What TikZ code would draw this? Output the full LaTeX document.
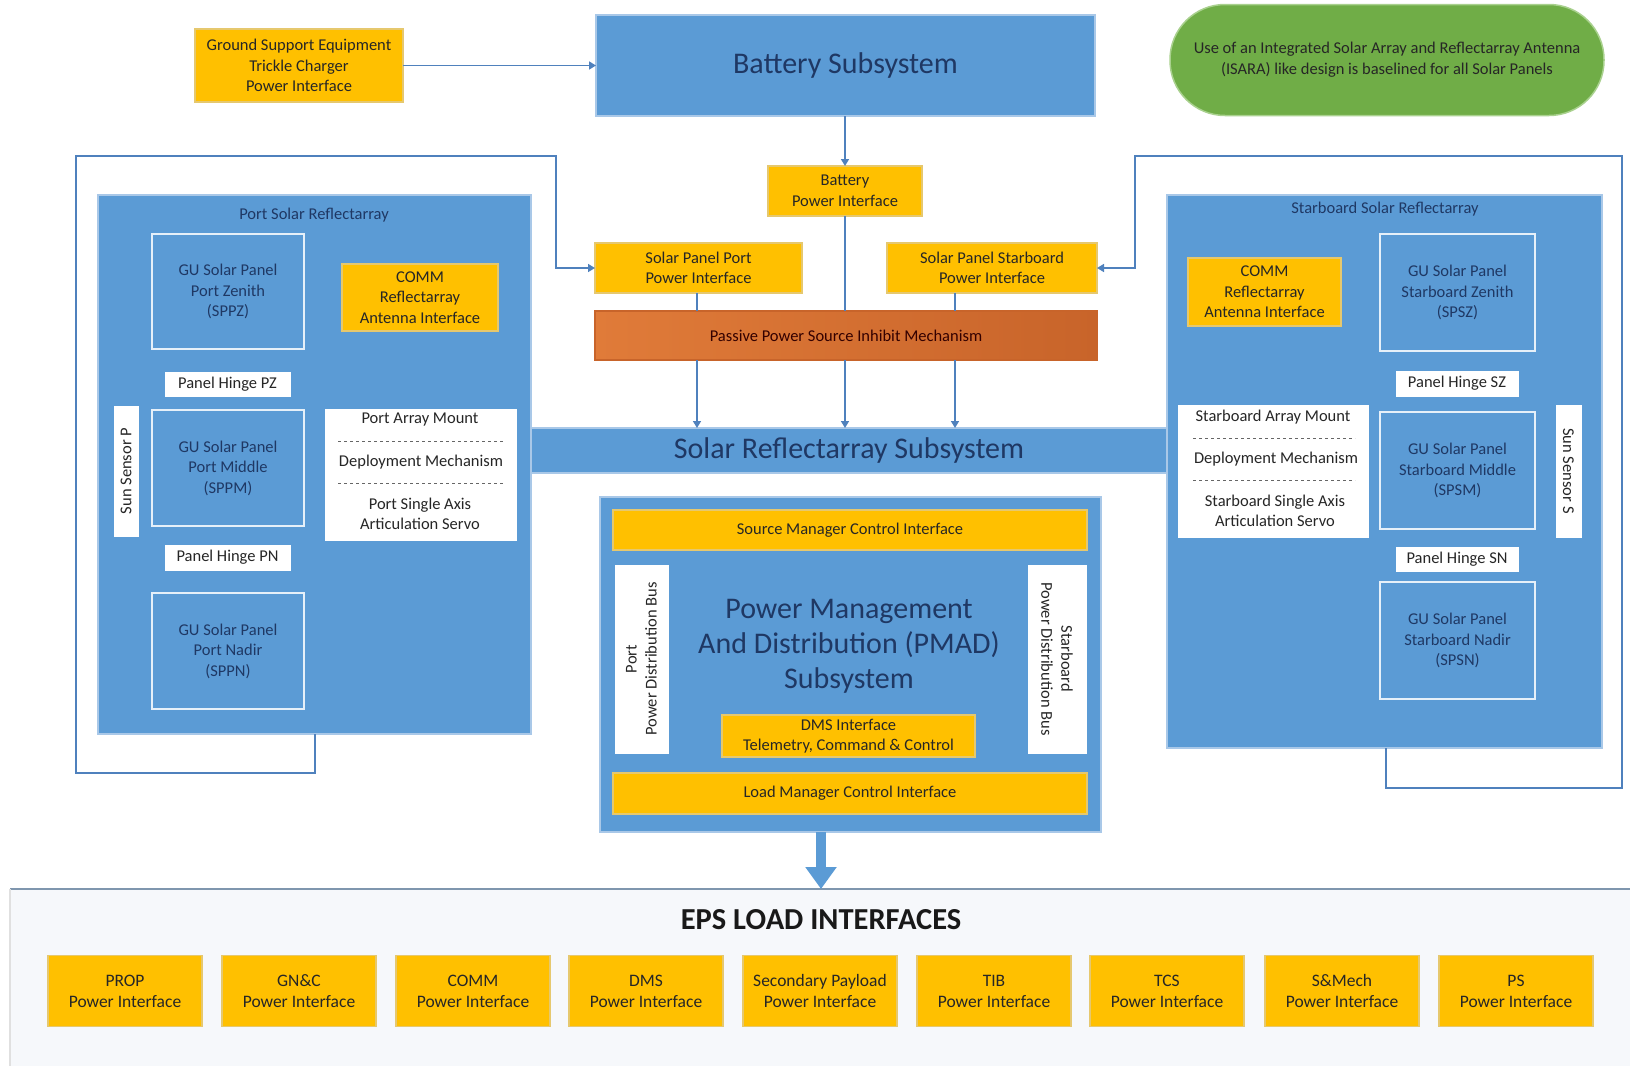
\documentclass[tikz,border=0pt]{standalone}
\usepackage{fontspec}
\setmainfont{Carlito}
\usetikzlibrary{arrows.meta,calc}
\definecolor{bfill}{HTML}{5B9BD5}
\definecolor{bedge}{HTML}{A9C8E8}
\definecolor{gold}{HTML}{FFC000}
\definecolor{goldedge}{HTML}{E6C86E}
\definecolor{navy}{HTML}{1F3864}
\definecolor{lnk}{HTML}{4F81BD}
\definecolor{orng}{HTML}{E07B39}
\definecolor{orngd}{HTML}{C8642A}
\definecolor{grn}{HTML}{70AD47}
\definecolor{grnedge}{HTML}{A9D18E}
\definecolor{epsline}{HTML}{7F96AE}
\definecolor{epsbg}{HTML}{F6F8FB}
\newcommand{\smf}{\fontsize{16.5}{20.5}\selectfont}
\newcommand{\lgf}{\fontsize{30}{35}\selectfont}
\tikzset{
  x=1pt, y=-1pt,
  every node/.style={inner sep=0pt, outer sep=0pt},
  bluebox/.style={draw=bedge, line width=1.5pt, fill=bfill, text=navy},
  panel/.style={draw=white!85!bfill, line width=2pt, fill=bfill, text=navy, align=center, font=\smf},
  goldbox/.style={draw=goldedge, line width=1.2pt, fill=gold, text=black!85, align=center, font=\smf},
  whitebox/.style={draw=white, fill=white, text=black!85, align=center, font=\smf},
  lbl/.style={text=navy, align=center},
  conn/.style={draw=lnk, line width=1.6pt},
  arr/.style={conn, -{Triangle[width=8pt,length=7pt]}},
  loadbox/.style={goldbox, minimum width=154pt, minimum height=71pt, font=\fontsize{17.5}{21}\selectfont},
}
\newcommand{\boxat}[5]{\node[#1, minimum width={(#4)-(#2)}, minimum height={(#5)-(#3)}] at ({((#2)+(#4))/2},{((#3)+(#5))/2})}
\begin{document}
\begin{tikzpicture}
\useasboundingbox (0,0) rectangle (1630,1066);
\fill[white] (0,0) rectangle (1630,1066);

% ---- top row
\boxat{goldbox}{195}{29}{403}{102} (gse) {Ground Support Equipment\\Trickle Charger\\Power Interface};
\boxat{bluebox}{596}{15}{1095}{116} (bat) {};
\node[lbl, font=\lgf] at (bat) {Battery Subsystem};
\node[draw=grnedge, line width=1.5pt, fill=grn, rounded corners=55pt, minimum width=434pt, minimum height=111pt, align=center, text=black!85, font=\fontsize{16.5}{21}\selectfont] (note) at (1387,60) {Use of an Integrated Solar Array and Reflectarray Antenna\\(ISARA) like design is baselined for all Solar Panels};

% ---- central interfaces
\boxat{goldbox}{768}{166}{922}{216} (bpi) {Battery\\Power Interface};
\boxat{goldbox}{595}{243}{802}{293} (sppi) {Solar Panel Port\\Power Interface};
\boxat{goldbox}{887}{243}{1097}{293} (sspi) {Solar Panel Starboard\\Power Interface};
\node[draw=orngd, line width=1.2pt, left color=orng, right color=orngd, minimum width=502pt, minimum height=49pt, text=black!80!red, font=\smf] (pas) at (846,335.5) {Passive Power Source Inhibit Mechanism};

% ---- port reflectarray
\boxat{bluebox}{98}{195}{531}{734} (port) {};
\node[lbl, font=\smf] (porttitle) at (314,215) {Port Solar Reflectarray};
\boxat{panel}{152}{234}{304}{349} (sppz) {GU Solar Panel\\Port Zenith\\(SPPZ)};
\boxat{goldbox}{342}{264}{498}{331} (pcomm) {COMM\\Reflectarray\\Antenna Interface};
\boxat{whitebox}{165}{372}{290}{396} (phz) {Panel Hinge PZ};
\boxat{whitebox}{114}{406}{138}{536} (ssp) {};
\node[rotate=90, font=\smf, text=black!85] at (ssp) {Sun Sensor P};
\boxat{panel}{152}{410}{304}{526} (sppm) {GU Solar Panel\\Port Middle\\(SPPM)};
\boxat{whitebox}{325}{409}{516}{540} (pam) {};
\node[font=\smf, text=black!85] (pam1) at (420,420) {Port Array Mount};
\node[font=\smf, text=black!85] (pam2) at (421,462) {Deployment Mechanism};
\node[font=\smf, text=black!85, align=center] (pam3) at (420,514) {Port Single Axis\\Articulation Servo};
\draw[black!60, dashed, line width=0.8pt] (338,441) -- (504,441);
\draw[black!60, dashed, line width=0.8pt] (338,483) -- (504,483);
\boxat{whitebox}{165}{545}{290}{570} (phn) {Panel Hinge PN};
\boxat{panel}{152}{593}{304}{709} (sppn) {GU Solar Panel\\Port Nadir\\(SPPN)};

% ---- starboard reflectarray
\boxat{bluebox}{1167}{195}{1602}{748} (stb) {};
\node[lbl, font=\smf] (stbtitle) at (1385,209) {Starboard Solar Reflectarray};
\boxat{goldbox}{1188}{258}{1341}{326} (scomm) {COMM\\Reflectarray\\Antenna Interface};
\boxat{panel}{1380}{234}{1535}{351} (spsz) {GU Solar Panel\\Starboard Zenith\\(SPSZ)};
\boxat{whitebox}{1396}{371}{1518}{396} (shz) {Panel Hinge SZ};
\boxat{whitebox}{1178}{405}{1368}{537} (sam) {};
\node[font=\smf, text=black!85] (sam1) at (1273,417) {Starboard Array Mount};
\node[font=\smf, text=black!85] (sam2) at (1276,459) {Deployment Mechanism};
\node[font=\smf, text=black!85, align=center] (sam3) at (1275,511) {Starboard Single Axis\\Articulation Servo};
\draw[black!60, dashed, line width=0.8pt] (1193,438) -- (1355,438);
\draw[black!60, dashed, line width=0.8pt] (1193,480) -- (1355,480);
\boxat{panel}{1380}{412}{1535}{529} (spsm) {GU Solar Panel\\Starboard Middle\\(SPSM)};
\boxat{whitebox}{1556}{405}{1581}{537} (sss) {};
\node[rotate=-90, font=\smf, text=black!85] at (sss) {Sun Sensor S};
\boxat{whitebox}{1396}{547}{1518}{571} (shn) {Panel Hinge SN};
\boxat{panel}{1380}{582}{1535}{699} (spsn) {GU Solar Panel\\Starboard Nadir\\(SPSN)};

% ---- solar reflectarray subsystem bar
\boxat{bluebox}{531}{428}{1167}{473} (srs) {};
\node[lbl, font=\lgf] at (849,450) {Solar Reflectarray Subsystem};

% ---- PMAD
\boxat{bluebox}{600}{497}{1101}{832} (pmad) {};
\boxat{goldbox}{613}{510}{1087}{550} (smci) {Source Manager Control Interface};
\boxat{whitebox}{615}{565}{668}{753} (ppdb) {};
\node[rotate=90, align=center, font=\fontsize{16.5}{20}\selectfont, text=black!85] at (ppdb) {Port\\Power Distribution Bus};
\boxat{whitebox}{1028}{565}{1086}{753} (spdb) {};
\node[rotate=-90, align=center, font=\fontsize{16.5}{20}\selectfont, text=black!85] at (spdb) {Starboard\\Power Distribution Bus};
\node[lbl, font=\lgf] (pmadt) at (849,646) {Power Management\\And Distribution (PMAD)\\Subsystem};
\boxat{goldbox}{722}{715}{975}{757} (dms) {DMS Interface\\Telemetry, Command \& Control};
\boxat{goldbox}{613}{773}{1087}{814} (lmci) {Load Manager Control Interface};

% ---- EPS load interfaces
\node[fill=epsbg, minimum width=1620pt, minimum height=177pt] (eps) at (820,977.5) {};
\draw[epsline, line width=2.5pt] (eps.north west) -- (eps.north east);
\draw[black!12, line width=1.5pt] (eps.north west) -- (eps.south west);
\node[font=\bfseries\fontsize{30.5}{34}\selectfont, text=black!90] (epst) at (821,920) {EPS LOAD INTERFACES};
\node[loadbox] (l1) at (125,991) {PROP\\Power Interface};
\node[loadbox] (l2) at (299,991) {GN\&C\\Power Interface};
\node[loadbox] (l3) at (473,991) {COMM\\Power Interface};
\node[loadbox] (l4) at (646,991) {DMS\\Power Interface};
\node[loadbox] (l5) at (820,991) {Secondary Payload\\Power Interface};
\node[loadbox] (l6) at (994,991) {TIB\\Power Interface};
\node[loadbox] (l7) at (1167,991) {TCS\\Power Interface};
\node[loadbox] (l8) at (1342,991) {S\&Mech\\Power Interface};
\node[loadbox] (l9) at (1516,991) {PS\\Power Interface};

% ---- connectors
\draw[arr] (gse.east) -- (bat.west |- gse.east);
\draw[arr] (bat.south -| bpi.north) -- (bpi.north);
\draw[conn] (bpi.south) -- (pas.north -| bpi.south);
\draw[conn] (sppi.south -| 697,0) -- (pas.north -| 697,0);
\draw[conn] (sspi.south -| 955,0) -- (pas.north -| 955,0);
\draw[arr] (pas.south -| 697,0) -- (srs.north -| 697,0);
\draw[arr] (pas.south -| bpi.south) -- (srs.north -| bpi.south);
\draw[arr] (pas.south -| 955,0) -- (srs.north -| 955,0);
\draw[arr] (port.south -| 315,0) -- (315,773) -- (76,773) -- (76,156) -- (556,156) |- (sppi.west);
\draw[arr] (stb.south -| 1386,0) -- (1386,788) -- (1622,788) -- (1622,156) -- (1135,156) |- (sspi.east);
\draw[draw=bfill, line width=10pt, -{Triangle[width=30pt,length=22pt]}] (pmad.south -| eps.north) ++(1,0) coordinate (pa) (pa) -- (eps.north -| pa);
\end{tikzpicture}
\end{document}
